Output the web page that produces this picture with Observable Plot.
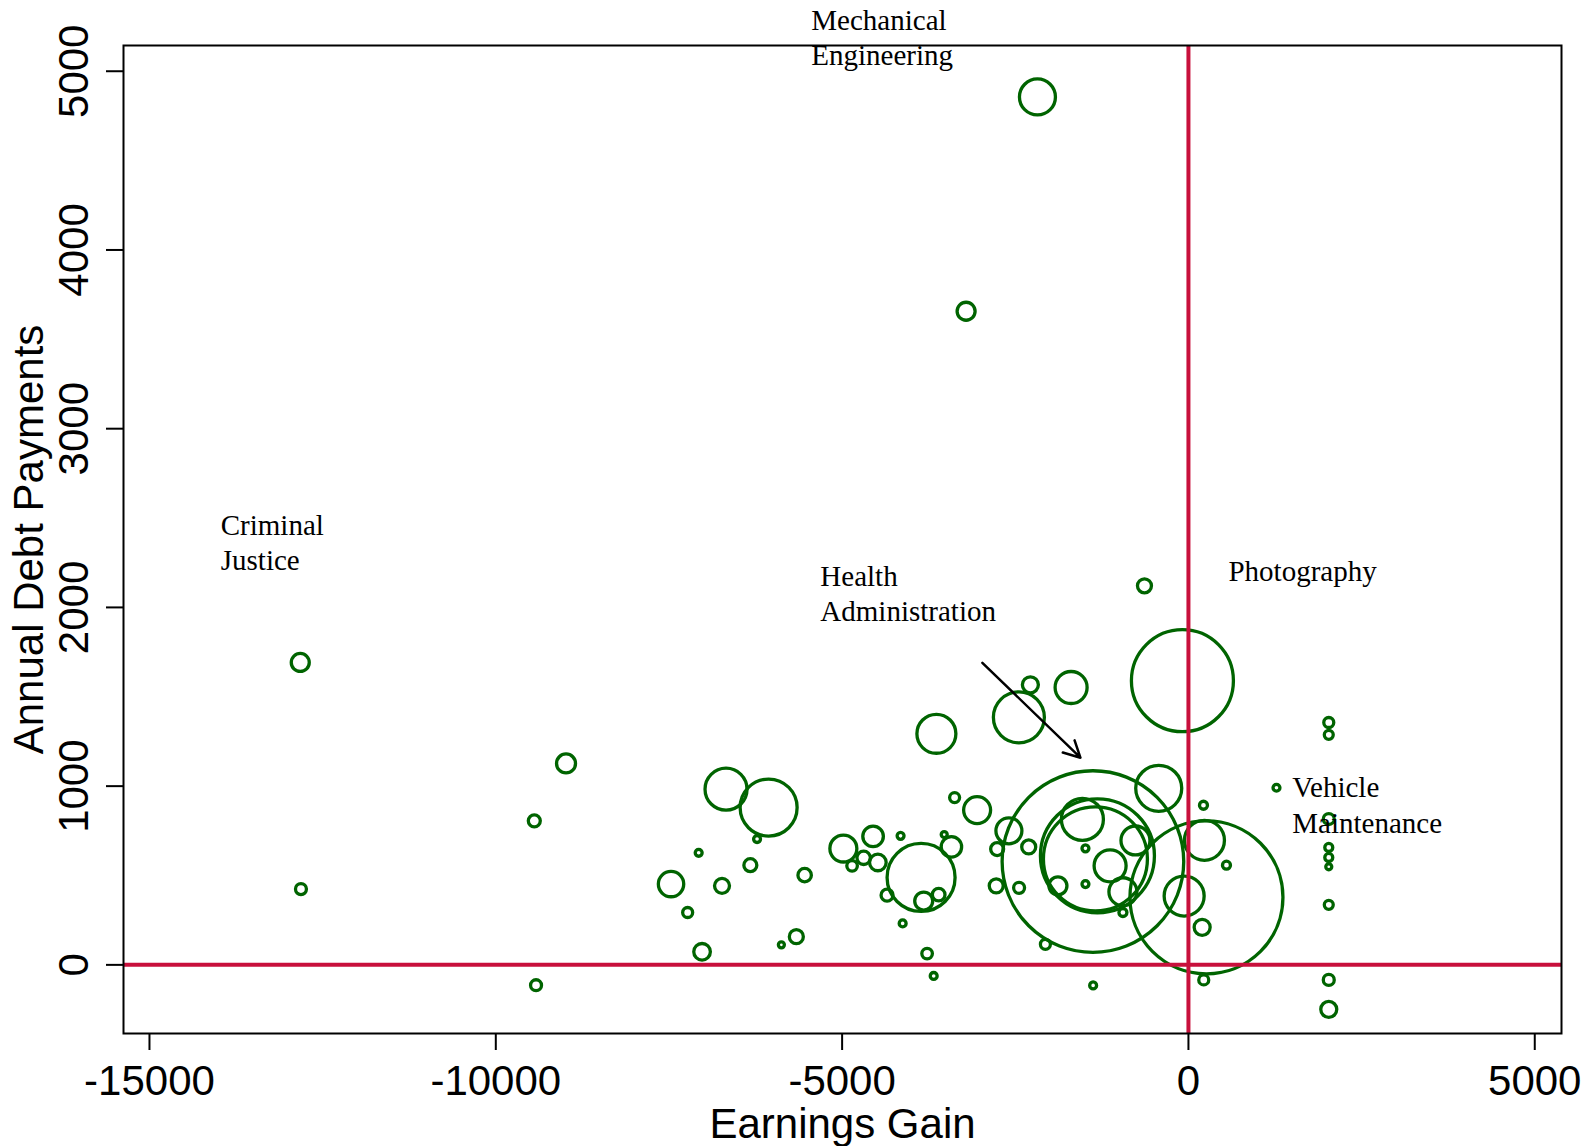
<!DOCTYPE html>
<html>
<head>
<meta charset="utf-8">
<script src="https://cdn.jsdelivr.net/npm/d3@7"></script>
<script src="https://cdn.jsdelivr.net/npm/@observablehq/plot@0.6"></script>
<style>
  html, body { margin: 0; padding: 0; background: #fff; }
</style>
</head>
<body>
<div id="chart"></div>
<script>
// Program-level data: earnings gain (x), annual debt payments (y), enrollment (circle area)
const earningsGain = [
  -2180, -3210, -12823, -12813, -8986, -9444, -9419, -87, -635, -2282,
  -1694, -2448, -3639, -6676, -6061, -429, -3051, -3376, -2592, 231,
  217, 1271, -7470, -6734, -6228, -7071, -6325, -5541, -7230, -7022,
  -5877, -5661, -4982, -4553, -4856, -4689, -4484, -4156, -3860, -3422,
  -3526, -4351, -3822, -3606, -4126, -3773, -3678, -2762, -2306, -2775,
  -2445, -1379, -1314, -1343, -1531, -1131, -765, -946, -1884, -1487,
  -1487, -946, -62, 198, 260, -2065, 549, 221, -1376, 2026,
  2026, 2026, 2026, 2026, 2026, 2026, 2026, 2026
];
const debtPayments = [
  4856, 3657, 1692, 424, 1127, 806, -114, 1590, 2121, 1567,
  1552, 1385, 1293, 983, 880, 988, 866, 936, 750, 697,
  893, 991, 452, 442, 704, 627, 558, 502, 293, 73,
  112, 158, 651, 719, 554, 599, 573, 722, 489, 660,
  729, 390, 357, 393, 232, 63, -62, 648, 660, 442,
  431, 578, 610, 593, 814, 554, 696, 409, 442, 652,
  452, 293, 385, 210, 378, 115, 558, -84, -115, 1356,
  1287, 816, 657, 601, 549, 336, -84, -249
];
const enrollment = [
  324, 81, 81, 30, 90, 36, 30, 2601, 49, 64,
  256, 650, 380, 441, 812, 529, 182, 25, 169, 400,
  16, 12, 161, 56, 12, 12, 42, 45, 25, 69,
  9, 49, 182, 106, 28, 45, 69, 12, 1156, 104,
  9, 36, 81, 40, 12, 28, 12, 42, 49, 49,
  30, 8245, 3249, 2704, 441, 256, 210, 196, 81, 12,
  12, 16, 400, 64, 5852, 25, 16, 25, 12, 25,
  20, 30, 16, 16, 9, 20, 30, 64
];

// Annotations
const labelText = ["Mechanical\nEngineering", "Criminal\nJustice", "Health\nAdministration", "Photography", "Vehicle\nMaintenance"];
const labelX = [-5445, -13971, -5314, 578, 1500];
const labelY = [5372, 2546, 2260, 2287, 1079];

const arrowX1 = [-2975], arrowY1 = [1690], arrowX2 = [-1560], arrowY2 = [1159];

const xTicks = [-15000, -10000, -5000, 0, 5000];
const yTicks = [0, 1000, 2000, 3000, 4000, 5000];
const xDomain = [-15375, 5386];
const yDomain = [-384, 5144];

const points = earningsGain.map((x, i) => ({x, y: debtPayments[i], n: enrollment[i]}));
const labels = labelText.map((t, i) => ({t, x: labelX[i], y: labelY[i]}));
const arrows = arrowX1.map((x1, i) => ({x1, y1: arrowY1[i], x2: arrowX2[i], y2: arrowY2[i]}));

const sans = "'Liberation Sans', Arial, Helvetica, sans-serif";
const serif = "'Liberation Serif', 'Times New Roman', Times, serif";

const chart = Plot.plot({
  width: 1593,
  height: 1146,
  marginLeft: 123,
  marginRight: 32,
  marginTop: 45,
  marginBottom: 113,
  style: {fontFamily: sans, background: "#fff", overflow: "visible"},
  x: {domain: xDomain},
  y: {domain: yDomain},
  r: {type: "sqrt", domain: [0, 10000], range: [0, 100]},
  marks: [
    Plot.dot(points, {x: "x", y: "y", r: "n", stroke: "#006400", strokeWidth: 3.3, fill: "none"}),
    Plot.ruleX([0], {stroke: "#c8103c", strokeWidth: 4}),
    Plot.ruleY([0], {stroke: "#c8103c", strokeWidth: 4}),
    Plot.arrow(arrows, {x1: "x1", y1: "y1", x2: "x2", y2: "y2", stroke: "black", strokeWidth: 2.5, headLength: 11, headAngle: 55}),
    Plot.text(labels, {x: "x", y: "y", text: "t", textAnchor: "start", lineAnchor: "top", lineHeight: 1.22, fontSize: 29, fontFamily: serif, fill: "black"}),
    Plot.frame({stroke: "black", strokeWidth: 2}),
    Plot.axisX({ticks: xTicks, tickFormat: d => String(d), tickSize: 17, tickPadding: 15, fontSize: 42, strokeWidth: 2,
      label: "Earnings Gain", labelAnchor: "center", labelOffset: 104, labelArrow: "none"}),
    Plot.axisY({ticks: yTicks, tickFormat: d => String(d), tickSize: 17, tickPadding: 19, tickRotate: -90, fontSize: 42, strokeWidth: 2,
      label: "Annual Debt Payments", labelAnchor: "center", labelOffset: 110, labelArrow: "none"})
  ]
});
document.getElementById("chart").appendChild(chart);
</script>
</body>
</html>
